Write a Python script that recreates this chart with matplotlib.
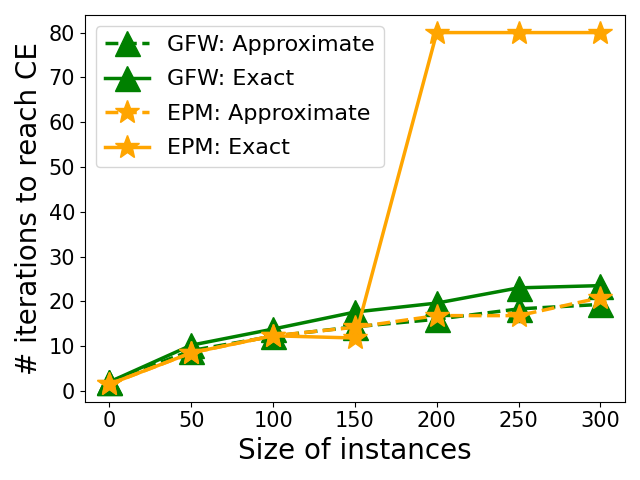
import matplotlib
matplotlib.use("Agg")
import matplotlib.pyplot as plt

sizes = [0, 50, 100, 150, 200, 250, 300]
gfw_approx = [2.0, 9.0, 12.2, 14.3, 16.0, 18.3, 19.3]
gfw_exact = [2.0, 10.2, 13.8, 17.6, 19.6, 23.0, 23.5]
epm_approx = [1.5, 8.5, 12.3, 14.2, 16.8, 16.8, 20.8]
epm_exact = [1.5, 8.5, 12.3, 11.8, 80.0, 80.0, 80.0]

fig, ax = plt.subplots(figsize=(6.4, 4.8), dpi=100)

ax.plot(sizes, gfw_approx, "^--", color="green", linewidth=2.5, markersize=18, label="GFW: Approximate")
ax.plot(sizes, gfw_exact, "^-", color="green", linewidth=2.5, markersize=18, label="GFW: Exact")
ax.plot(sizes, epm_approx, "*--", color="orange", linewidth=2.5, markersize=18, label="EPM: Approximate")
ax.plot(sizes, epm_exact, "*-", color="orange", linewidth=2.5, markersize=18, label="EPM: Exact")

ax.set_xlabel("Size of instances", fontsize=20)
ax.set_ylabel("# iterations to reach CE", fontsize=20)
ax.tick_params(labelsize=15)
ax.legend(fontsize=16, loc="upper left", labelspacing=0.65)

plt.tight_layout()
plt.savefig("out.png")
